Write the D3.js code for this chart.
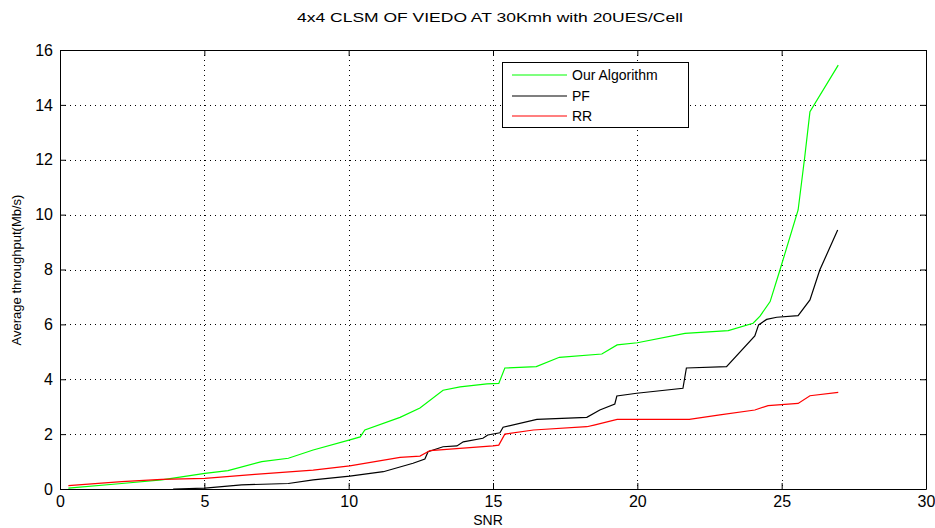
<!DOCTYPE html>
<html>
<head>
<meta charset="utf-8">
<script src="https://cdn.jsdelivr.net/npm/d3@7"></script>
<style>
  body { margin: 0; background: #fff; }
  svg text { font-family: "Liberation Sans", Arial, sans-serif; fill: #000; }
</style>
</head>
<body>
<div id="chart"></div>
<script>
// 数据
const ourSnr = [0.29, 2.14, 3.52, 5.02, 5.82, 6.99, 7.91, 8.77, 10.04, 10.4, 10.56, 11.78, 12.47, 13.27, 13.86, 14.79, 15.2, 15.41, 16.5, 17.3, 18.77, 19.3, 20.0, 21.65, 23.15, 24.01, 24.25, 24.6, 24.94, 25.57, 25.8, 25.98, 26.96];
const ourVals = [0.03, 0.2, 0.33, 0.57, 0.67, 1.0, 1.12, 1.42, 1.79, 1.9, 2.15, 2.61, 2.95, 3.6, 3.72, 3.83, 3.85, 4.41, 4.46, 4.8, 4.92, 5.25, 5.33, 5.67, 5.77, 6.04, 6.3, 6.83, 7.98, 10.17, 12.11, 13.75, 15.45];

const pfSnr = [3.92, 5.02, 6.29, 7.91, 8.77, 10.04, 11.2, 12.23, 12.64, 12.75, 13.27, 13.75, 13.97, 14.65, 14.82, 15.24, 15.35, 16.52, 18.25, 18.7, 19.22, 19.29, 19.98, 21.58, 21.7, 23.09, 24.07, 24.2, 24.48, 24.83, 25.57, 25.98, 26.32, 26.94];
const pfVals = [0.0, 0.03, 0.15, 0.2, 0.33, 0.47, 0.63, 0.94, 1.09, 1.36, 1.54, 1.57, 1.72, 1.85, 1.97, 2.05, 2.25, 2.54, 2.61, 2.88, 3.1, 3.39, 3.49, 3.67, 4.41, 4.46, 5.58, 5.98, 6.18, 6.26, 6.32, 6.89, 7.98, 9.44];

const rrSnr = [0.29, 2.14, 3.52, 5.02, 6.75, 8.77, 10.04, 11.78, 12.47, 12.82, 15.0, 15.2, 15.41, 16.4, 18.25, 18.5, 19.3, 21.8, 22.86, 24.07, 24.53, 25.57, 25.98, 26.96];
const rrVals = [0.12, 0.27, 0.35, 0.39, 0.53, 0.69, 0.84, 1.15, 1.2, 1.4, 1.57, 1.6, 2.0, 2.15, 2.27, 2.33, 2.54, 2.54, 2.7, 2.88, 3.04, 3.12, 3.4, 3.52];

const seriesNames = ["Our Algorithm", "PF", "RR"];
const seriesColors = ["#00ff00", "#000000", "#ff0000"];
const xTicks = [0, 5, 10, 15, 20, 25, 30];
const yTicks = [0, 2, 4, 6, 8, 10, 12, 14, 16];

const titleText = "4x4 CLSM OF VIEDO AT 30Kmh with 20UES/Cell";

//绘图
const width = 935, height = 528;
const margin = {left: 60, right: 9, top: 50, bottom: 39};

const svg = d3.select("#chart").append("svg")
  .attr("width", width)
  .attr("height", height);

const x = d3.scaleLinear().domain([0, 30]).range([margin.left, width - margin.right]);
const y = d3.scaleLinear().domain([0, 16]).range([height - margin.bottom, margin.top]);

// 网格线
const grid = svg.append("g")
  .attr("stroke", "#000")
  .attr("stroke-width", 1)
  .attr("stroke-dasharray", "1,4");
grid.selectAll(".vx").data(xTicks.slice(1, -1)).join("line")
  .attr("x1", d => Math.round(x(d)) + 0.5).attr("x2", d => Math.round(x(d)) + 0.5)
  .attr("y1", y(16)).attr("y2", y(0));
grid.selectAll(".hy").data(yTicks.slice(1, -1)).join("line")
  .attr("y1", d => Math.round(y(d)) + 0.5).attr("y2", d => Math.round(y(d)) + 0.5)
  .attr("x1", x(0)).attr("x2", x(30));

// 曲线
const series = [
  {name: seriesNames[0], color: seriesColors[0], pts: ourSnr.map((s, i) => [s, ourVals[i]])},
  {name: seriesNames[1], color: seriesColors[1], pts: pfSnr.map((s, i) => [s, pfVals[i]])},
  {name: seriesNames[2], color: seriesColors[2], pts: rrSnr.map((s, i) => [s, rrVals[i]])}
];
const line = d3.line().x(d => x(d[0])).y(d => y(d[1]));
svg.append("g").selectAll("path").data(series).join("path")
  .attr("fill", "none")
  .attr("stroke", d => d.color)
  .attr("stroke-width", 1.2)
  .attr("d", d => line(d.pts));

// 坐标轴（MATLAB 风格，刻度朝内，四边）
const tickLen = 6;
const axB = svg.append("g").attr("transform", `translate(0,${y(0)})`)
  .call(d3.axisBottom(x).tickValues(xTicks).tickSizeInner(-tickLen).tickSizeOuter(0).tickPadding(7));
const axT = svg.append("g").attr("transform", `translate(0,${y(16)})`)
  .call(d3.axisTop(x).tickValues(xTicks).tickSizeInner(-tickLen).tickSizeOuter(0).tickFormat(""));
const axL = svg.append("g").attr("transform", `translate(${x(0)},0)`)
  .call(d3.axisLeft(y).tickValues(yTicks).tickSizeInner(-tickLen).tickSizeOuter(0).tickPadding(7));
const axR = svg.append("g").attr("transform", `translate(${x(30)},0)`)
  .call(d3.axisRight(y).tickValues(yTicks).tickSizeInner(-tickLen).tickSizeOuter(0).tickFormat(""));
[axB, axT, axL, axR].forEach(a => {
  a.attr("font-size", 16).attr("font-family", "Liberation Sans, Arial, sans-serif");
  a.select(".domain").attr("stroke", "#000");
  a.selectAll(".tick line").attr("stroke", "#000");
});

// 标题和轴标签
svg.append("text")
  .attr("x", 490).attr("y", 22)
  .attr("text-anchor", "middle")
  .attr("font-size", 13)
  .attr("textLength", 386).attr("lengthAdjust", "spacingAndGlyphs")
  .text(titleText);
svg.append("text")
  .attr("x", 488).attr("y", 525)
  .attr("text-anchor", "middle")
  .attr("font-size", 14)
  .text("SNR");
svg.append("text")
  .attr("transform", "translate(21,270) rotate(-90)")
  .attr("text-anchor", "middle")
  .attr("font-size", 13)
  .text("Average throughput(Mb/s)");

// 图例
const lg = svg.append("g");
lg.append("rect")
  .attr("x", 502.5).attr("y", 62.5).attr("width", 186).attr("height", 65)
  .attr("fill", "#fff").attr("stroke", "#000");
const rowY = [75, 96, 116];
series.forEach((s, i) => {
  lg.append("line")
    .attr("x1", 512).attr("x2", 567)
    .attr("y1", rowY[i]).attr("y2", rowY[i])
    .attr("stroke", s.color).attr("stroke-width", 1.2);
  lg.append("text")
    .attr("x", 572).attr("y", rowY[i])
    .attr("dy", "0.35em")
    .attr("font-size", 14)
    .text(s.name);
});
</script>
</body>
</html>
